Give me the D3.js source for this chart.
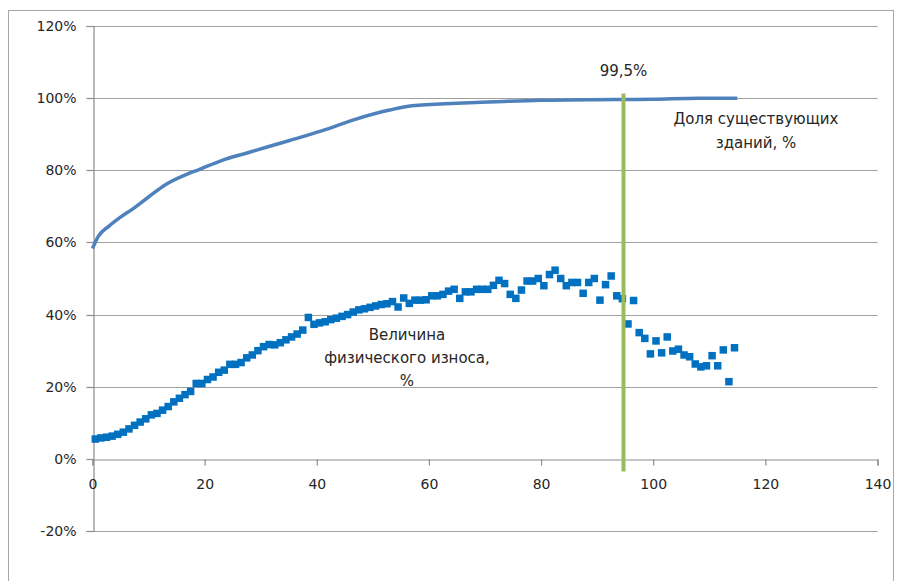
<!DOCTYPE html>
<html><head><meta charset="utf-8">
<script src="https://cdn.jsdelivr.net/npm/d3@7"></script>
<style>
html,body{margin:0;padding:0;background:#fff;}
svg text{font-family:"DejaVu Sans",Verdana,sans-serif;fill:#262626;}
</style></head>
<body><svg id="c" width="898" height="581"></svg>
<script>
// Share of existing buildings, % (line) — x: age, years
const shareX = [0, 1, 3, 5, 7, 10, 13, 17, 19, 23, 28, 31, 35, 41, 47, 53, 57, 65, 72, 80, 93, 100, 108, 115];
const shareY = [58.3, 61.6, 64.6, 67.0, 69.1, 72.6, 76.0, 79.0, 80.2, 82.7, 85.0, 86.4, 88.2, 91.0, 94.2, 96.7, 97.9, 98.6, 99.0, 99.4, 99.6, 99.7, 100, 100];
// Physical wear, % (scatter), one point per year (plotted at mid-year)
const wearAge = d3.range(0, 115);
const wearY = [5.5, 5.8, 6.0, 6.3, 6.8, 7.4, 8.3, 9.3, 10.2, 11.1,
  12.2, 12.6, 13.5, 14.5, 15.8, 16.8, 17.8, 18.7, 20.9, 20.9,
  22.0, 22.7, 24.0, 24.6, 26.2, 26.2, 26.7, 28.0, 28.8, 30.0,
  31.1, 31.7, 31.6, 32.2, 33.0, 33.8, 34.6, 35.7, 39.2, 37.3,
  37.7, 38.0, 38.6, 39.0, 39.5, 40.0, 40.7, 41.3, 41.6, 42.0,
  42.4, 42.8, 43.0, 43.6, 42.1, 44.6, 43.1, 44.0, 44.0, 44.1,
  45.2, 45.2, 45.6, 46.5, 47.0, 44.5, 46.3, 46.3, 47.0, 47.0,
  47.0, 48.1, 49.5, 48.6, 45.6, 44.5, 46.8, 49.3, 49.3, 50.0,
  48.0, 51.1, 52.3, 50.0, 48.0, 48.9, 48.9, 45.9, 48.9, 50.0,
  44.0, 48.3, 50.7, 45.2, 44.4, 37.4, 43.9, 35.0, 33.4, 29.1,
  32.7, 29.4, 33.8, 29.9, 30.4, 28.8, 28.3, 26.3, 25.5, 25.8,
  28.6, 25.8, 30.2, 21.4, 30.8];
// Marker line: age at which 99.5% share is reached
const markX = 94.7;
const markLabel = "99,5%";
const markRange = [-3.5, 101.3];
const xTicks = [0, 20, 40, 60, 80, 100, 120, 140];
const yTicks = [-20, 0, 20, 40, 60, 80, 100, 120];
const shareLabel = ["Доля существующих", "зданий, %"];
const wearLabel = ["Величина", "физического износа,", "%"];

const svg = d3.select("#c");
const x = d3.scaleLinear().domain([0, 140]).range([92.5, 877.5]);
const y = d3.scaleLinear().domain([-20, 120]).range([531, 26]);

// chart frame
svg.append("rect").attr("x", 8.5).attr("y", 10.5).attr("width", 885).attr("height", 600)
  .attr("fill", "none").attr("stroke", "#a6a6a6");

// gridlines
svg.append("g").selectAll("line").data(yTicks.filter(d => d !== 0)).join("line")
  .attr("x1", x(0)).attr("x2", x(140))
  .attr("y1", d => Math.round(y(d)) + 0.5).attr("y2", d => Math.round(y(d)) + 0.5)
  .attr("stroke", "#a0a0a0").attr("stroke-width", 1.2);

// y axis
const yAxis = d3.axisLeft(y).tickValues(yTicks).tickFormat(d => d + "%").tickSize(7).tickPadding(10);
const gy = svg.append("g").attr("transform", `translate(${Math.round(x(0)) + 0.5},0)`).call(yAxis);
gy.select(".domain").attr("stroke", "#8c8c8c").attr("stroke-width", 1.2);
gy.selectAll(".tick line").attr("stroke", "#8c8c8c").attr("stroke-width", 1.2);
gy.selectAll(".tick text").style("font-size", "14px").attr("fill", "#262626");
gy.selectAll(".tick").attr("transform", d => `translate(0,${Math.round(y(d)) + 0.5})`);

// x axis at 0%
const xAxis = d3.axisBottom(x).tickValues(xTicks).tickSize(6).tickPadding(14);
const gx = svg.append("g").attr("transform", `translate(0,${Math.round(y(0)) + 0.5})`).call(xAxis);
gx.select(".domain").attr("stroke", "#8c8c8c").attr("stroke-width", 1.2);
gx.selectAll(".tick line").attr("stroke", "#8c8c8c").attr("stroke-width", 1.2);
gx.selectAll(".tick text").style("font-size", "14px").attr("fill", "#262626");

// share line
svg.append("path").datum(shareX.map((d, i) => [d, shareY[i]]))
  .attr("fill", "none").attr("stroke", "#4f81bd").attr("stroke-width", 3.5)
  .attr("stroke-linejoin", "round")
  .attr("d", d3.line().x(d => x(d[0])).y(d => y(d[1])).curve(d3.curveMonotoneX));

// wear scatter
const s = 7.5;
svg.append("g").selectAll("rect").data(wearAge.map((a, i) => [a + 0.5, wearY[i]])).join("rect")
  .attr("x", d => x(d[0]) - s / 2).attr("y", d => y(d[1]) - s / 2)
  .attr("width", s).attr("height", s).attr("fill", "#0070c0");

// marker line
svg.append("line").attr("x1", x(markX)).attr("x2", x(markX))
  .attr("y1", y(markRange[1])).attr("y2", y(markRange[0]))
  .attr("stroke", "#9bbb59").attr("stroke-width", 4);

svg.append("text").attr("x", x(markX)).attr("y", 76).attr("text-anchor", "middle")
  .style("font-size", "15px").text(markLabel);

svg.append("g").selectAll("text").data(shareLabel).join("text")
  .attr("x", 756).attr("y", (d, i) => 124 + i * 24).attr("text-anchor", "middle")
  .style("font-size", "15px").text(d => d);

svg.append("g").selectAll("text").data(wearLabel).join("text")
  .attr("x", 407).attr("y", (d, i) => 340 + i * 23).attr("text-anchor", "middle")
  .style("font-size", "15px").text(d => d);
</script></body></html>
